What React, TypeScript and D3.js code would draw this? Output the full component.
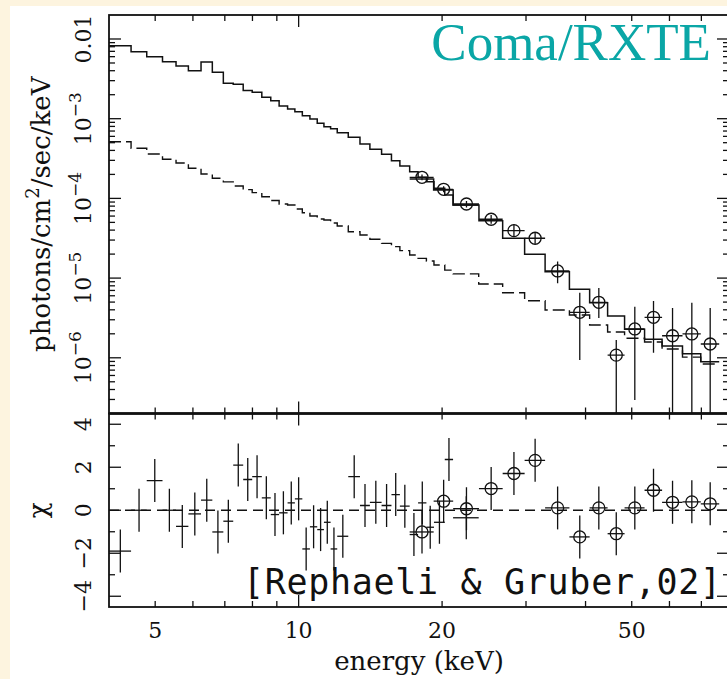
import React from 'react';
import * as d3 from 'd3';

// PCA bins (keV) and model / nonthermal component (photons/cm^2/s/keV)
const pcaEdges = [4.0, 4.45, 4.80, 5.18, 5.53, 5.87, 6.24, 6.59, 6.95, 7.29, 7.65, 7.99, 8.37, 8.74, 9.10, 9.48, 9.82, 10.18, 10.56, 10.94, 11.30, 11.67, 12.05, 12.71, 13.45, 14.11, 14.93, 15.66, 16.31, 17.10, 17.81, 18.54, 19.23, 20.26, 21.09, 23.87];
const pcaModel = [8.24e-3, 6.93e-3, 6.0e-3, 5.19e-3, 4.58e-3, 4.0e-3, 5.14e-3, 3.82e-3, 2.78e-3, 2.70e-3, 2.25e-3, 2.14e-3, 1.86e-3, 1.68e-3, 1.44e-3, 1.32e-3, 1.22e-3, 1.09e-3, 9.91e-4, 8.75e-4, 7.94e-4, 7.49e-4, 6.67e-4, 5.84e-4, 4.82e-4, 4.13e-4, 3.57e-4, 2.97e-4, 2.55e-4, 2.16e-4, 1.84e-4, 1.62e-4, 1.34e-4, 1.10e-4, 8.26e-5];
const nonthermalPca = [5.14e-4, 4.25e-4, 3.61e-4, 3.10e-4, 2.78e-4, 2.39e-4, 2.02e-4, 1.79e-4, 1.61e-4, 1.43e-4, 1.29e-4, 1.18e-4, 1.05e-4, 9.41e-5, 8.51e-5, 8.26e-5, 7.36e-5, 6.61e-5, 6.01e-5, 5.52e-5, 5.36e-5, 4.91e-5, 4.51e-5, 3.82e-5, 3.47e-5, 3.07e-5, 2.73e-5, 2.48e-5, 2.21e-5, 1.95e-5, 1.77e-5, 1.64e-5, 1.46e-5, 1.26e-5, 1.13e-5];
const pcaChi = [-1.9, 0.0, 1.38, 0.0, -0.75, -0.17, 0.47, -1.01, -0.51, 2.1, 1.43, 1.56, 0.58, -0.2, -0.12, 0.34, 0.53, -1.8, -0.77, -0.9, -0.56, -1.8, -1.21, 1.56, 0.22, 0.37, 0.22, 0.73, 0.19, -1.13, 0.34, -0.79, -0.56, 2.36, -0.35];

// HEXTE bins (keV), data, model, nonthermal component
const hexteEdges = [17.1, 19.2, 21.1, 23.9, 26.8, 29.8, 32.9, 37.0, 40.8, 44.5, 48.3, 53.2, 57.9, 63.9, 69.8, 76.3];
const hexteFlux = [1.84e-4, 1.30e-4, 8.5e-5, 5.47e-5, 3.94e-5, 3.16e-5, 1.23e-5, 3.72e-6, 4.97e-6, 1.08e-6, 2.30e-6, 3.22e-6, 1.89e-6, 1.99e-6, 1.49e-6];
const hexteLo = [1.69e-4, 1.19e-4, 7.7e-5, 4.8e-5, 3.3e-5, 2.7e-5, 8.6e-6, 9.4e-7, 3.16e-6, 0, 2.96e-7, 1.16e-6, 0, 0, 0];
const hexteHi = [2.0e-4, 1.42e-4, 9.3e-5, 6.2e-5, 4.7e-5, 3.7e-5, 1.61e-5, 6.56e-6, 7.5e-6, 1.67e-6, 4.38e-6, 5.16e-6, 4.21e-6, 4.91e-6, 4.21e-6];
const hexteModel = [1.75e-4, 1.27e-4, 8.26e-5, 5.25e-5, 3.16e-5, 1.99e-5, 1.20e-5, 7.23e-6, 4.91e-6, 3.34e-6, 2.28e-6, 1.71e-6, 1.41e-6, 1.12e-6, 8.93e-7];
const nonthermalHexte = [8.43e-6, 6.56e-6, 5.20e-6, 3.98e-6, 3.44e-6, 2.58e-6, 2.11e-6, 1.76e-6, 1.58e-6, 1.29e-6, 1.02e-6, 8.36e-7];
const hexteChi = [-1.01, 0.42, 0.07, 1.01, 1.71, 2.32, 0.11, -1.24, 0.11, -1.09, 0.11, 0.93, 0.37, 0.39, 0.30];

// tick labels
const xTickLabels = [5, 10, 20, 50];
const fluxTickLabels = [0.01, 1e-3, 1e-4, 1e-5, 1e-6];
const chiTickLabels = [4, 2, 0, -2, -4];

const SERIF = '"DejaVu Serif", serif';
const INK = '#111';

function stepPath(edges: number[], vals: number[], xs: (v: number) => number, ys: (v: number) => number) {
  let d = '';
  vals.forEach((v, i) => {
    const x0 = xs(edges[i]);
    const x1 = xs(edges[i + 1]);
    const y = ys(v);
    d += (i === 0 ? `M${x0},${y}` : `L${x0},${y}`) + `L${x1},${y}`;
  });
  return d;
}

export default function App() {
  const W = 727, H = 679;
  const L = 109, R = 729, T = 15, M = 413.5, B = 607;
  const x = d3.scaleLog().domain([4, 80]).range([L, R]);
  const yF = d3.scaleLog().domain([2e-7, 0.02]).range([M, T]);
  const yC = d3.scaleLinear().domain([-4.5, 4.5]).range([B, M]);
  const yFc = (v: number) => (v <= 0 ? M + 2 : Math.min(M + 2, yF(v)));

  const xMinor = [5, 6, 7, 8, 9, 20, 30, 40, 50, 60, 70];
  const xMajor = [10];
  const fMajor = [1e-6, 1e-5, 1e-4, 1e-3, 1e-2];
  const fMinor: number[] = [];
  for (let e = -7; e <= -2; e++) {
    for (let k = 2; k <= 9; k++) {
      const v = k * Math.pow(10, e);
      if (v > 2.01e-7 && v < 0.0199) fMinor.push(v);
    }
  }
  const cTicks = d3.range(-4, 5);
  const MJ = 12, MN = 6;

  const ticks: JSX.Element[] = [];
  let k = 0;
  const tk = (x1: number, y1: number, x2: number, y2: number) =>
    ticks.push(<line key={'t' + k++} x1={x1} y1={y1} x2={x2} y2={y2} stroke={INK} strokeWidth={1.3} />);
  [...xMinor.map((v) => [v, MN]), ...xMajor.map((v) => [v, MJ])].forEach(([v, len]) => {
    const xx = x(v);
    tk(xx, T, xx, T + len);
    tk(xx, M, xx, M - len);
    tk(xx, M, xx, M + len);
    tk(xx, B, xx, B - len);
  });
  [...fMinor.map((v) => [v, MN]), ...fMajor.map((v) => [v, MJ])].forEach(([v, len]) => {
    const yy = yF(v);
    tk(L, yy, L + len, yy);
    tk(R, yy, R - len, yy);
  });
  cTicks.forEach((v) => {
    const len = v % 2 === 0 ? MJ : MN;
    const yy = yC(v);
    tk(L, yy, L + len, yy);
    tk(R, yy, R - len, yy);
  });

  const dashedEdges = [...pcaEdges, ...hexteEdges.slice(4)];
  const dashedVals = [...nonthermalPca, ...nonthermalHexte];

  const hexteCenters = hexteFlux.map((_, i) => (hexteEdges[i] + hexteEdges[i + 1]) / 2);
  const pcaCenters = pcaChi.map((_, i) => (pcaEdges[i] + pcaEdges[i + 1]) / 2);

  const fmtExp = (v: number) => Math.round(Math.log10(v));

  return (
    <svg width={W} height={H} style={{ position: 'absolute', left: 0, top: 0, display: 'block' }}>
      <defs>
        <clipPath id="cTop"><rect x={L} y={T} width={R - L} height={M - T} /></clipPath>
        <clipPath id="cBot"><rect x={L} y={M} width={R - L} height={B - M} /></clipPath>
      </defs>
      <rect x={0} y={0} width={W} height={H} fill="#fdf4df" />
      <rect x={10} y={6} width={W - 10} height={H - 6} fill="#ffffff" />

      {/* upper panel */}
      <g clipPath="url(#cTop)" fill="none" stroke={INK}>
        <path d={stepPath(pcaEdges, pcaModel, x, yF)} strokeWidth={1.5} />
        <path d={stepPath(hexteEdges, hexteModel, x, yF)} strokeWidth={1.5} />
        <path d={stepPath(dashedEdges, dashedVals, x, yF)} strokeWidth={1.4} strokeDasharray="12,5" />
        {hexteFlux.map((f, i) => (
          <g key={'hd' + i} strokeWidth={1.3}>
            <line x1={x(hexteEdges[i])} x2={x(hexteEdges[i + 1])} y1={yF(f)} y2={yF(f)} />
            <line x1={x(hexteCenters[i])} x2={x(hexteCenters[i])} y1={yFc(hexteLo[i])} y2={yF(hexteHi[i])} />
            <circle cx={x(hexteCenters[i])} cy={yF(f)} r={6} />
          </g>
        ))}
      </g>

      {/* lower panel */}
      <g clipPath="url(#cBot)" fill="none" stroke={INK}>
        <line x1={L} x2={R} y1={yC(0)} y2={yC(0)} strokeWidth={1.3} strokeDasharray="10,6" />
        {pcaChi.map((c, i) => (
          <g key={'pc' + i} strokeWidth={1.3}>
            <line x1={x(pcaEdges[i])} x2={x(pcaEdges[i + 1])} y1={yC(c)} y2={yC(c)} />
            <line x1={x(pcaCenters[i])} x2={x(pcaCenters[i])} y1={yC(c - 1)} y2={yC(c + 1)} />
          </g>
        ))}
        {hexteChi.map((c, i) => (
          <g key={'hc' + i} strokeWidth={1.3}>
            <line x1={x(hexteEdges[i])} x2={x(hexteEdges[i + 1])} y1={yC(c)} y2={yC(c)} />
            <line x1={x(hexteCenters[i])} x2={x(hexteCenters[i])} y1={yC(c - 1)} y2={yC(c + 1)} />
            <circle cx={x(hexteCenters[i])} cy={yC(c)} r={6} />
          </g>
        ))}
      </g>

      {/* frames and ticks */}
      <g fill="none" stroke={INK}>
        <rect x={L} y={T} width={R - L} height={M - T} strokeWidth={1.8} />
        <rect x={L} y={M} width={R - L} height={B - M} strokeWidth={1.8} />
        <line x1={L} x2={R} y1={M} y2={M} strokeWidth={2.6} />
      </g>
      {ticks}

      {/* axis tick labels */}
      <g fontFamily={SERIF} fontSize={22} fill={INK}>
        {xTickLabels.map((v) => (
          <text key={'xl' + v} x={x(v)} y={638} textAnchor="middle">{v}</text>
        ))}
        {fluxTickLabels.map((v) => (
          <text key={'fl' + v} transform={`translate(91,${yF(v)}) rotate(-90)`} textAnchor="middle">
            {v === 0.01 ? '0.01' : (
              <>
                <tspan>10</tspan>
                <tspan dy={-10} fontSize={17}>{'\u2212' + Math.abs(fmtExp(v))}</tspan>
              </>
            )}
          </text>
        ))}
        {chiTickLabels.map((v) => (
          <text key={'cl' + v} transform={`translate(91,${yC(v)}) rotate(-90)`} textAnchor="middle">
            {v < 0 ? '\u2212' + Math.abs(v) : String(v)}
          </text>
        ))}
      </g>

      {/* axis titles */}
      <g fontFamily={SERIF} fontSize={26} fill={INK}>
        <text transform={`translate(50,${(T + M) / 2}) rotate(-90)`} textAnchor="middle">
          <tspan>photons/cm</tspan>
          <tspan dy={-11} fontSize={18}>2</tspan>
          <tspan dy={11}>/sec/keV</tspan>
        </text>
        <text transform={`translate(47,${yC(0)}) rotate(-90)`} textAnchor="middle">χ</text>
        <text x={(L + R) / 2} y={670} textAnchor="middle">energy (keV)</text>
      </g>

      <text x={711} y={60} textAnchor="end" fontFamily='"Liberation Serif", serif' fontSize={53} fill="#0aa6a6">
        Coma/RXTE
      </text>
      <text x={243} y={594} fontFamily='"DejaVu Sans Mono", monospace' fontSize={35} fill={INK}
        textLength={478} lengthAdjust="spacing">
        [Rephaeli &amp; Gruber,02]
      </text>
    </svg>
  );
}
